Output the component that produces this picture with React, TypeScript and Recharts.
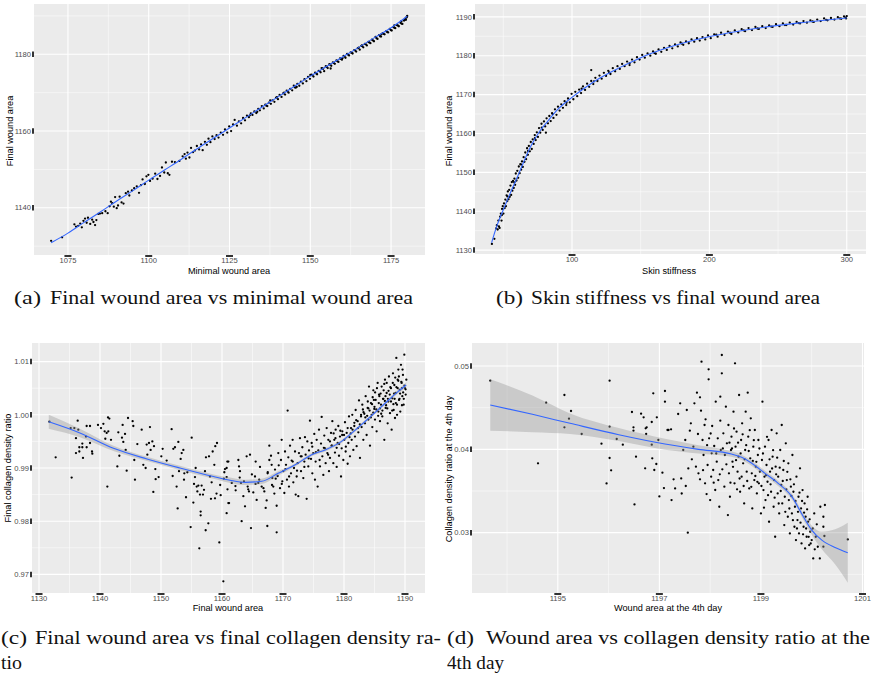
import React from 'react';
import { ComposedChart, Scatter, Line, Area, XAxis, YAxis, CartesianGrid } from 'recharts';

// ---------- Panel (a): minimal wound area vs final wound area ----------
const aPoints: [number, number][] = [
  [1069.8,1131.4],[1073.2,1132.3],[1077.0,1135.7],[1077.5,1135.1],[1078.2,1135.3],[1078.8,1135.9],[1079.3,1134.9],[1079.8,1136.6],[1080.3,1137.2],[1080.8,1136.1],
  [1081.2,1137.4],[1081.9,1135.8],[1082.5,1136.9],[1082.9,1136.3],[1083.4,1135.5],[1083.8,1136.8],[1084.4,1138.4],[1084.9,1138.5],[1085.6,1138.6],[1086.6,1139.1],
  [1087.3,1138.6],[1087.9,1140.4],[1088.3,1141.6],[1088.7,1141.2],[1089.2,1140.3],[1089.6,1142.8],[1090.1,1139.9],[1090.5,1140.6],[1091.0,1142.9],[1091.6,1141.4],
  [1092.2,1141.1],[1092.9,1143.8],[1093.6,1144.2],[1094.0,1143.2],[1094.8,1144.5],
  [1095.5,1145.1],[1096.3,1145.6],[1097.0,1143.9],[1097.6,1145.9],[1098.1,1147.4],[1098.8,1146.2],[1099.3,1148.2],[1099.9,1148.6],[1100.4,1147.0],[1101.2,1147.6],
  [1102.0,1148.9],[1102.7,1147.5],[1103.5,1148.3],[1104.1,1150.5],[1104.8,1149.2],[1105.3,1151.8],[1105.9,1149.0],[1106.4,1148.6],[1107.2,1152.0],[1108.1,1151.9],
  [1109.5,1152.2],[1110.5,1153.4],[1111.1,1154.0],[1111.5,1152.8],[1112.0,1154.4],[1112.6,1153.1],[1113.1,1155.6],[1113.7,1154.5],[1114.3,1154.9],[1114.9,1156.1],
  [1115.6,1155.2],[1116.2,1156.5],[1116.7,1155.0],[1117.4,1157.2],[1118.0,1156.4],[1118.5,1158.0],[1119.1,1157.1],[1119.7,1158.6],[1120.4,1157.9],[1121.0,1158.9],
  [1121.6,1158.3],[1122.3,1159.6],[1123.0,1159.0],[1123.6,1160.4],[1124.3,1159.6],[1124.9,1161.2],[1125.5,1160.0],[1126.1,1161.7],[1126.6,1162.9],[1127.3,1161.4],
  [1127.9,1162.5],[1128.6,1162.0],[1129.2,1163.4],[1129.8,1162.8],
  [1130.4,1164.0],[1131.0,1163.6],[1131.6,1164.6],[1132.1,1164.2],[1132.7,1165.1],[1133.3,1164.7],[1133.9,1165.8],[1134.4,1165.4],[1135.0,1166.5],[1135.6,1165.9],
  [1136.1,1166.9],[1136.7,1166.5],[1137.2,1167.4],[1137.8,1167.1],[1138.3,1168.0],[1138.9,1167.6],[1139.4,1168.7],[1140.0,1168.3],[1140.5,1169.4],[1141.1,1168.9],
  [1141.6,1169.8],[1142.2,1169.5],[1142.7,1170.5],[1143.3,1170.0],[1143.8,1171.0],[1144.4,1170.6],[1144.9,1171.8],[1145.5,1171.3],[1146.0,1172.3],[1146.6,1171.8],
  [1147.1,1172.9],[1147.7,1172.4],[1148.2,1173.5],[1148.8,1173.0],[1149.3,1174.1],[1149.9,1173.6],[1150.4,1174.7],[1151.0,1174.2],[1151.5,1175.2],[1152.1,1174.8],
  [1152.6,1175.7],[1153.2,1175.3],[1153.7,1176.3],[1154.3,1175.6],[1154.8,1176.9],[1155.4,1176.4],[1155.9,1177.4],[1156.5,1177.0],[1157.0,1177.9],[1157.6,1177.5],
  [1158.1,1178.4],[1158.7,1178.0],[1159.2,1178.9],[1159.8,1178.6],[1160.3,1179.6],[1160.9,1179.1],[1161.4,1180.1],[1162.0,1179.7],[1162.5,1180.5],[1163.1,1180.2],
  [1163.6,1181.1],[1164.2,1180.7],[1164.7,1181.6],[1165.3,1181.2],[1165.8,1182.2],[1166.4,1181.8],[1166.9,1182.7],[1167.5,1182.3],[1168.0,1183.2],[1168.6,1182.9],
  [1169.1,1183.8],[1169.7,1183.4],[1170.2,1184.5],[1170.8,1184.0],[1171.3,1185.0],[1171.9,1184.6],[1172.4,1185.5],[1173.0,1185.2],[1173.5,1186.0],[1174.1,1185.7],
  [1174.6,1186.6],[1175.2,1186.2],[1175.7,1187.1],[1176.3,1186.8],[1176.8,1187.6],[1177.4,1187.3],[1177.9,1188.2],[1178.5,1187.9],[1179.0,1188.8],[1179.4,1189.3],
  [1179.8,1189.6],[1180.0,1190.0],[1179.6,1189.0],[1178.2,1188.6],[1176.0,1187.5],[1172.0,1185.2],[1166.0,1182.3],[1160.0,1179.0],[1153.5,1176.4],[1150.0,1174.6],
  [1145.8,1171.5],[1141.9,1170.0],[1137.6,1168.0],[1156.3,1176.3],
  [1150.7,1174.5],[1151.8,1175.0],[1152.9,1175.6],[1154.0,1176.2],[1155.1,1176.7],[1156.2,1177.3],[1157.3,1177.7],[1158.4,1178.2],[1159.5,1178.8],[1160.6,1179.4],
  [1161.7,1179.9],[1162.8,1180.4],[1163.9,1181.0],[1165.0,1181.7],[1166.1,1182.1],[1167.2,1182.6],[1168.3,1183.1],[1169.4,1183.6],[1170.5,1184.2],[1171.6,1184.7],
  [1172.7,1185.3],[1173.8,1185.8],[1174.9,1186.3],[1176.0,1186.9],[1177.1,1187.5],[1178.2,1188.0],[1179.2,1188.9],[1179.9,1189.8],[1145.2,1171.4],[1143.0,1170.3],
  [1139.7,1168.8],[1136.4,1166.6],[1133.6,1165.0],[1131.3,1164.1]
];
const aSmooth: [number, number][] = [
  [1069.8,1130.9],[1075,1133.4],[1080,1136.2],[1085,1138.9],[1090,1141.7],[1095,1144.4],[1100,1147.2],[1105,1149.9],[1110,1152.6],[1115,1155.4],
  [1120,1158.1],[1125,1160.8],[1130,1163.5],[1135,1166.2],[1140,1168.9],[1145,1171.6],[1150,1174.3],[1155,1176.8],[1160,1179.3],[1165,1181.8],
  [1170,1184.4],[1175,1186.9],[1180,1189.9]
];
const aXTicks = [1075, 1100, 1125, 1150, 1175];
const aXMinor = [1087.5, 1112.5, 1137.5, 1162.5];
const aYTicks = [1140, 1160, 1180];
const aYMinor = [1130, 1150, 1170, 1190];

// ---------- Panel (b): skin stiffness vs final wound area ----------
const bPoints: [number, number][] = [
  [41.7,1131.6],[43.5,1132.9],[44.8,1135.6],[45.3,1136.4],[45.9,1135.3],[46.4,1137.6],[46.8,1136.1],[47.3,1135.7],[47.7,1138.6],[48.2,1139.4],
  [48.7,1137.6],[49.1,1140.6],[49.6,1141.3],[50.1,1139.4],[50.5,1142.0],[51.0,1140.8],[51.5,1143.0],[51.9,1141.3],[52.4,1144.1],[52.9,1142.6],
  [53.3,1145.1],[53.8,1143.1],[54.3,1145.5],[54.7,1143.7],[55.2,1146.6],[55.7,1144.2],[56.2,1147.5],[56.6,1145.3],[57.1,1147.8],[57.6,1146.0],
  [58.1,1148.4],[58.6,1146.8],[59.1,1149.7],[59.6,1147.9],[60.2,1150.4],[60.8,1148.6],[61.3,1151.5],[61.9,1149.8],[62.4,1152.1],[63.0,1150.7],
  [63.6,1152.8],[64.2,1151.4],[64.8,1153.9],[65.4,1152.7],[66.0,1155.1],[66.6,1153.4],[67.3,1156.2],[67.9,1154.5],[68.6,1156.8],[69.3,1155.4],
  [70.0,1157.8],[70.7,1156.0],[71.4,1158.5],[72.1,1157.3],[72.9,1159.6],[73.6,1158.3],[74.4,1160.3],[75.2,1159.1],[76.0,1161.4],[76.9,1160.2],
  [77.8,1162.5],[78.7,1160.9],[79.6,1163.1],[80.5,1161.8],[81.0,1160.2],[81.5,1163.9],[82.5,1162.6],[83.5,1164.5],[84.5,1163.2],[85.5,1165.2],
  [86.5,1164.0],[87.6,1166.2],[88.7,1164.8],[89.8,1166.9],[91.0,1165.9],[92.2,1167.5],[93.4,1166.6],[94.6,1168.3],[95.8,1167.3],[97.1,1169.0],
  [98.4,1168.0],[99.7,1170.2],[101.0,1168.8],[102.4,1170.7],[103.8,1169.6],[105.2,1171.3],[106.6,1170.4],[108.0,1172.1],[109.5,1171.2],[111.0,1172.8],
  [112.5,1172.0],[114.0,1176.3],[114.0,1173.5],[115.5,1172.7],[117.0,1174.3],[118.5,1173.5],[120.0,1174.9],[121.6,1174.1],[123.2,1175.6],[124.8,1174.8],
  [126.4,1176.1],[128.0,1175.3],[129.7,1176.8],[131.4,1176.0],[133.1,1177.3],[134.8,1176.6],[136.5,1177.9],[138.3,1177.3],[140.1,1178.5],[141.9,1177.6],
  [143.7,1179.0],[145.5,1178.3],[147.3,1179.6],[149.2,1179.0],[151.1,1180.2],[153.0,1179.5],[155.0,1180.6],[157.0,1180.0],[159.0,1181.1],[161.0,1180.5],
  [163.0,1181.6],[165.0,1181.0],[167.0,1182.0],[169.0,1181.5],[171.0,1182.5],[173.0,1181.9],[175.0,1182.9],[177.0,1182.4],[179.0,1183.4],[181.0,1182.8],
  [183.0,1183.7],[185.0,1183.2],[187.0,1184.2],[189.0,1183.6],[191.0,1184.5],[193.0,1183.9],[195.0,1184.8],[197.0,1184.2],[199.0,1185.2],[201.0,1184.5],
  [203.5,1185.5],[206.0,1184.9],[208.5,1185.9],[211.0,1185.3],[213.5,1186.2],[216.0,1185.6],[218.5,1186.5],[221.0,1186.0],[223.5,1186.8],[226.0,1186.3],
  [228.5,1187.1],[231.0,1186.6],[233.5,1187.4],[236.0,1186.9],[238.5,1187.6],[241.0,1187.1],[243.5,1187.8],[246.0,1187.4],[248.5,1188.1],[251.0,1187.6],
  [253.5,1188.3],[256.0,1187.9],[258.5,1188.5],[261.0,1188.0],[263.5,1188.7],[266.0,1188.3],[268.5,1188.9],[271.0,1188.5],[273.5,1189.1],[276.0,1188.7],
  [278.5,1189.3],[281.0,1188.9],[283.5,1189.6],[286.0,1189.1],[288.5,1189.7],[291.0,1189.3],[293.5,1189.9],[296.0,1189.5],[298.0,1190.1],[299.5,1189.6],
  [300.0,1190.2],[299.0,1189.8],
  [205,1185.4],[215,1185.9],[225,1186.5],[235,1187.0],[245,1187.5],[255,1187.9],[265,1188.4],[275,1188.8],[285,1189.2],[295,1189.6],
  [180,1183.1],[160,1180.7],[142,1178.1],[127,1175.7],[116,1173.4],[107,1171.5],[96,1167.9],[86,1165.0],[78,1161.5],[73,1158.8],
  [68,1155.5],[63,1152.0],[58,1147.4],[53,1143.8],[49,1139.0]
];
const bSmooth: [number, number][] = [
  [41.5,1131.9],[45,1135.9],[50,1140.4],[55,1144.6],[60,1148.6],[65,1152.8],[70,1156.7],[76,1160.3],[82,1163.0],[90,1166.3],
  [100,1169.3],[110,1171.9],[120,1174.2],[135,1177.0],[150,1179.5],[170,1182.1],[190,1184.1],[210,1185.6],[230,1186.8],[250,1187.8],
  [270,1188.6],[300,1189.7]
];
const bXTicks = [100, 200, 300];
const bXMinor = [50, 150, 250];
const bYTicks = [1130, 1140, 1150, 1160, 1170, 1180, 1190];
const bYMinor = [1135, 1145, 1155, 1165, 1175, 1185];

// ---------- Panel (c): final wound area vs final collagen density ratio ----------
const cPoints: [number, number][] = [
  [1131.7,0.9987],[1132.73,0.9920],[1135.35,0.9882],[1135.19,0.9975],[1135.79,0.9975],[1136.34,0.9989],[1136.44,0.9972],[1136.06,0.9956],[1136.06,0.9928],[1136.61,0.9931],
  [1136.61,0.9939],[1137.10,0.9946],[1137.10,0.9939],[1137.21,0.9919],[1137.81,0.9979],[1138.36,0.9979],[1137.70,0.9959],[1137.81,0.9939],[1138.36,0.9947],[1138.69,0.9931],
  [1138.74,0.9927],[1139.67,0.9981],[1140.16,0.9975],[1140.55,0.9983],[1140.76,0.9969],[1140.87,0.9955],[1141.09,0.9966],[1141.31,0.9995],[1141.53,0.9993],[1141.36,0.9969],
  [1141.20,0.9865],[1141.80,0.9953],[1142.84,0.9903],[1143.00,0.9967],[1143.60,0.9957],[1143.82,0.9949],[1144.10,0.9964],[1143.71,0.9981],[1143.17,0.9923],[1144.37,0.9895],
  [1144.59,0.9994],[1144.21,0.9934],[1145.35,0.9988],[1145.46,0.9979],[1145.62,0.9915],[1145.73,0.9878],[1146.12,0.9945],[1146.83,0.9972],[1147.10,0.9906],[1147.48,0.9900],
  [1147.65,0.9944],[1147.76,0.9925],[1148.03,0.9947],[1148.19,0.9977],[1148.30,0.9934],[1148.58,0.9950],[1148.74,0.9855],[1148.85,0.9941],[1149.07,0.9898],[1149.12,0.9879],
  [1149.61,0.9883],[1150.05,0.9922],[1150.27,0.9936],[1150.93,0.9914],[1151.74,0.9973],[1151.91,0.9885],[1152.02,0.9936],[1152.29,0.9939],[1152.56,0.9865],[1152.73,0.9824],
  [1152.84,0.9949],[1152.95,0.9894],[1153.22,0.9917],[1153.39,0.9928],[1153.66,0.9934],[1153.77,0.9878],[1153.82,0.9890],[1154.10,0.9845],[1154.32,0.9892],[1155.03,0.9957],
  [1154.86,0.9789],[1155.30,0.9835],[1155.41,0.9870],[1155.57,0.9883],[1155.68,0.9900],[1155.85,0.9865],[1155.96,0.9856],[1156.12,0.9867],[1156.39,0.9850],[1156.50,0.9818],
  [1156.50,0.9811],[1156.28,0.9749],[1156.66,0.9867],[1156.88,0.9850],[1157.05,0.9859],[1157.21,0.9894],[1157.32,0.9783],[1157.37,0.9920],[1157.76,0.9796],[1157.87,0.9922],
  [1158.03,0.9884],[1158.19,0.9842],[1158.30,0.9873],[1158.47,0.9931],[1158.74,0.9906],[1158.85,0.9843],[1158.90,0.9941],[1159.18,0.9947],[1159.56,0.9760],[1159.78,0.9849],
  [1160.22,0.9687],[1160.38,0.9892],[1160.49,0.9898],[1160.76,0.9883],[1160.87,0.9912],[1161.04,0.9834],
  [1161.04,0.9912],[1160.76,0.9900],[1161.15,0.9834],[1160.76,0.9815],[1162.68,0.9915],[1162.79,0.9903],[1162.95,0.9894],[1163.11,0.9872],[1162.24,0.9858],[1163.22,0.9800],
  [1163.50,0.9847],[1163.77,0.9828],[1164.04,0.9922],[1164.21,0.9865],[1164.42,0.9856],[1164.59,0.9925],[1164.75,0.9787],[1165.13,0.9854],[1165.41,0.9884],[1165.52,0.9912],
  [1165.68,0.9840],[1165.95,0.9872],[1166.23,0.9902],[1166.50,0.9865],[1166.94,0.9856],[1167.16,0.9825],[1167.32,0.9839],[1167.43,0.9791],[1167.48,0.9890],[1167.76,0.9915],
  [1167.76,0.9942],[1168.03,0.9923],[1168.14,0.9906],[1168.25,0.9881],[1168.41,0.9865],[1168.58,0.9852],[1168.69,0.9897],[1168.96,0.9829],[1168.96,0.9779],[1169.12,0.9885],
  [1169.23,0.9928],[1169.51,0.9862],[1169.67,0.9915],[1169.78,0.9953],[1169.89,0.9875],[1170.05,0.9894],[1170.22,0.9853],[1170.33,0.9931],[1170.49,0.9906],[1170.65,0.9878],
  [1170.76,1.0008],[1170.87,0.9920],[1170.98,0.9865],[1171.15,0.9942],[1171.31,0.9890],[1171.42,0.9914],[1171.58,0.9953],[1171.69,0.9873],[1171.80,0.9900],[1171.97,0.9931],
  [1172.08,0.9850],[1172.24,0.9884],[1172.40,0.9909],[1172.51,0.9847],[1172.62,0.9928],[1172.78,0.9956],[1172.95,0.9894],[1173.06,0.9922],[1173.17,0.9939],[1173.33,0.9881],
  [1173.50,0.9912],[1173.60,0.9958],[1173.71,0.9925],[1173.88,0.9842],[1173.99,0.9950],[1174.15,0.9903],[1174.26,0.9933],[1174.42,0.9989],[1174.59,0.9917],[1174.70,0.9947],
  [1174.81,0.9890],[1174.97,0.9928],[1175.13,0.9964],[1175.24,0.9878],[1175.35,0.9912],[1175.52,0.9953],[1175.68,0.9865],[1175.79,0.9933],[1175.90,0.9972],[1176.06,0.9903],
  [1176.23,0.9946],[1176.34,0.9996],[1176.45,0.9922],[1176.61,0.9887],[1176.77,0.9961],[1176.88,0.9937],[1176.99,0.9909],[1177.16,0.9975],[1177.27,0.9928],[1177.43,0.9953],
  [1177.54,0.9894],[1177.70,0.9919],[1177.87,0.9966],[1177.98,0.9942],[1178.09,0.9988],[1178.25,0.9909],[1178.41,0.9953],[1178.52,0.9929],[1178.63,0.9972],[1178.80,0.9902],
  [1178.96,0.9947],[1179.07,0.9979],[1179.18,0.9923],[1179.34,0.9959],[1179.51,0.9884],[1179.62,0.9937],[1179.73,0.9969],[1179.89,0.9915],[1180.05,0.9953],[1180.16,0.9986],
  [1180.27,0.9931],[1180.44,0.9966],[1180.60,0.9908],[1180.71,0.9947],[1180.82,0.9997],[1180.98,0.9922],[1181.15,0.9975],[1181.26,0.9953],[1181.36,1.0000],[1181.53,0.9934],
  [1181.69,0.9979],[1181.80,0.9959],[1181.91,1.0009],[1182.07,0.9941],[1182.24,0.9988],[1182.35,0.9967],[1182.46,1.0027],[1182.62,0.9919],[1182.79,0.9997],[1182.89,0.9977],
  [1183.00,1.0019],[1183.17,0.9953],[1183.33,1.0002],[1183.44,0.9984],[1183.55,1.0035],[1183.71,0.9962],[1183.88,1.0013],[1183.99,0.9991],[1184.10,1.0053],[1184.26,0.9942],
  [1184.42,1.0022],[1184.53,1.0000],[1184.64,0.9977],[1184.81,1.0046],[1184.97,1.0011],[1185.08,0.9991],[1185.19,1.0028],[1185.35,0.9969],[1185.52,1.0060],[1185.63,1.0006],
  [1185.74,1.0038],[1185.90,0.9988],[1186.07,1.0019],[1186.17,1.0053],[1186.28,0.9997],[1186.45,1.0030],[1186.61,0.9953],[1186.72,1.0066],[1186.83,1.0013],[1186.99,1.0041],
  [1187.16,0.9984],[1187.26,1.0025],[1187.37,1.0072],[1187.54,1.0003],[1187.70,1.0050],[1187.81,0.9972],[1187.92,1.0031],[1188.03,1.0078],[1188.14,1.0009],[1188.25,1.0056],
  [1188.36,0.9994],[1188.47,1.0041],[1188.58,1.0107],[1188.69,1.0019],[1188.80,1.0066],[1188.91,1.0085],[1189.02,1.0028],[1189.13,1.0047],[1189.23,1.0006],[1189.34,1.0094],
  [1189.45,1.0060],[1189.56,1.0035],[1189.67,1.0075],[1189.78,1.0019],[1189.89,1.0113],[1190.00,1.0050],[1190.11,1.0038],[1190.22,1.0066],
  [1184.0,1.0012],[1184.4,0.9995],[1184.9,1.0028],[1185.3,1.0010],[1185.8,1.0035],[1186.1,1.0002],[1186.5,1.0046],[1186.9,1.0018],[1187.2,1.0030],[1187.6,1.0052],
  [1187.9,1.0008],[1188.2,1.0040],[1188.5,1.0022],[1188.8,1.0050],[1189.1,1.0030],[1189.4,1.0062],[1189.7,1.0042],[1189.9,1.0055],[1189.5,1.0018],[1188.9,1.0064],
  [1188.4,1.0070],[1187.5,1.0038],[1186.7,1.0026],[1185.9,1.0012],[1185.1,1.0042],[1184.6,1.0020],[1183.8,0.9998],[1183.2,1.0005],[1182.6,0.9982],[1182.0,0.9990],
  [1181.4,0.9972],[1180.9,0.9958],[1180.3,0.9940],[1179.7,0.9962],[1179.2,0.9945],[1178.6,0.9956],[1178.0,0.9942],[1177.4,0.9925],[1176.7,0.9938],[1176.0,0.9915],
  [1175.4,0.9930],[1174.8,0.9940],[1174.2,0.9918],[1173.5,0.9902],[1172.9,0.9922],[1172.3,0.9895],[1171.6,0.9912],[1171.0,0.9884],[1170.4,0.9898],[1169.8,0.9870],
  [1169.3,0.9905],[1168.8,0.9880],[1168.2,0.9868],[1167.5,0.9892],[1166.8,0.9862],[1166.1,0.9878],[1165.5,0.9870],[1164.9,0.9888],[1164.3,0.9860],[1163.6,0.9875],
  [1162.9,0.9882],[1162.2,0.9866],[1161.6,0.9872],[1160.9,0.9860],[1160.3,0.9880],[1159.7,0.9868],[1159.1,0.9852],
  [1183.1,1.0010],[1183.5,0.9995],[1183.9,1.0025],[1184.2,1.0008],[1184.7,1.0033],[1185.0,1.0015],[1185.4,1.0050],[1185.7,1.0022],[1186.0,1.0040],[1186.3,1.0008],
  [1186.6,1.0058],[1186.8,1.0035],[1187.1,1.0012],[1187.3,1.0045],[1187.7,1.0025],[1188.0,1.0060],[1188.3,1.0030],[1188.6,1.0052],[1188.7,1.0000],[1189.0,1.0072],
  [1189.2,1.0040],[1189.5,1.0050],[1189.8,1.0030],[1190.1,1.0048],[1189.6,1.0085],[1188.1,1.0020],[1187.0,1.0060],[1186.4,1.0030],[1185.6,0.9998],[1184.8,1.0004],
  [1182.8,1.0000],[1182.3,0.9975],[1181.7,0.9985],[1181.1,0.9965],[1180.6,0.9975],[1180.0,0.9962],[1179.4,0.9970],[1178.8,0.9938],[1178.3,0.9965],[1177.7,0.9950]
];
const cSmooth: [number, number][] = [
  [1131.6,0.9987],[1136.7,0.9966],[1142.2,0.9937],[1147.7,0.9917],[1153.1,0.9900],[1158.6,0.9884],[1161.3,0.9877],[1163.8,0.9873],[1166.5,0.9875],[1169.2,0.9890],
  [1172.0,0.9906],[1174.7,0.9925],[1176.9,0.9934],[1179.6,0.9950],[1181.3,0.9966],[1183.4,0.9987],[1186.2,1.0016],[1188.9,1.0044],[1190.2,1.0056]
];
const cBand: [number, number, number][] = [
  [1131.6,0.9974,1.0000],[1136.7,0.9958,0.9974],[1142.2,0.9932,0.9942],[1147.7,0.9913,0.9921],[1153.1,0.9896,0.9904],[1158.6,0.9880,0.9888],[1161.3,0.9872,0.9882],
  [1163.8,0.9868,0.9878],[1166.5,0.9870,0.9880],[1169.2,0.9886,0.9894],[1172.0,0.9903,0.9909],[1174.7,0.9922,0.9928],[1176.9,0.9931,0.9937],[1179.6,0.9947,0.9953],
  [1181.3,0.9963,0.9969],[1183.4,0.9984,0.9990],[1186.2,1.0013,1.0019],[1188.9,1.0040,1.0048],[1190.2,1.0051,1.0061]
];
const cXTicks = [1130, 1140, 1150, 1160, 1170, 1180, 1190];
const cXMinor = [1135, 1145, 1155, 1165, 1175, 1185];
const cYTicks = [0.97, 0.98, 0.99, 1.0, 1.01];
const cYMinor = [0.975, 0.985, 0.995, 1.005];

// ---------- Panel (d): wound area vs collagen density ratio at the 4th day ----------
const dPoints: [number, number][] = [
  [1193.67,0.04824],[1194.61,0.03832],[1194.77,0.04560],[1195.13,0.04652],[1195.13,0.04264],[1195.22,0.04368],[1195.26,0.04460],[1195.47,0.04184],[1195.86,0.04068],[1195.96,0.03591],
  [1196.02,0.04824],[1196.02,0.04272],[1196.02,0.03896],[1196.05,0.03748],[1196.16,0.04124],[1196.28,0.04056],[1196.46,0.04448],[1196.49,0.04264],[1196.49,0.04224],[1196.51,0.03339],
  [1196.54,0.03912],[1196.64,0.04428],[1196.69,0.04384],[1196.72,0.03772],[1196.73,0.04252],[1196.75,0.04264],[1196.74,0.04184],[1196.85,0.04328],[1196.85,0.04056],[1196.86,0.03892],
  [1196.88,0.04672],[1196.90,0.03752],[1196.94,0.03824],[1196.95,0.04384],[1196.98,0.04112],[1197.00,0.03435],[1197.06,0.03720],[1197.09,0.03535],[1197.11,0.04700],[1197.11,0.04572],
  [1197.18,0.04232],[1197.16,0.04232],[1197.24,0.03391],[1197.23,0.04240],[1197.31,0.03531],[1197.37,0.04424],[1197.41,0.04552],[1197.43,0.03651],[1197.47,0.03992],[1197.51,0.04112],
  [1197.54,0.04472],[1197.56,0.03000],[1197.57,0.03771],[1197.60,0.04224],[1197.62,0.04312],[1197.64,0.03880],[1197.67,0.04032],[1197.69,0.04552],[1197.72,0.03792],[1197.74,0.04680],
  [1197.76,0.04184],[1197.77,0.03712],[1197.80,0.04624],[1197.80,0.03640],[1197.82,0.04464],[1197.83,0.05052],[1197.85,0.04112],[1197.87,0.03932],[1197.89,0.04292],[1197.90,0.03592],
  [1197.91,0.04360],[1197.93,0.03463],[1197.95,0.03812],[1197.97,0.04960],[1197.97,0.04840],[1197.98,0.04132],[1198.00,0.03391],[1198.02,0.03672],[1198.03,0.03952],[1198.04,0.04280],
  [1198.06,0.03752],[1198.08,0.04040],[1198.10,0.03512],[1198.11,0.04572],[1198.13,0.03852],[1198.15,0.04132],[1198.16,0.03631],[1198.18,0.03311],[1198.20,0.04344],[1198.20,0.04632],
  [1198.21,0.03992],[1198.23,0.05132],[1198.23,0.04912],[1198.24,0.03760],[1198.26,0.04192],[1198.28,0.03552],[1198.29,0.03932],[1198.31,0.04512],[1198.33,0.04072],[1198.35,0.03211],
  [1198.36,0.04292],[1198.37,0.03712],[1198.39,0.03431],[1198.41,0.03992],[1198.42,0.04152],[1198.44,0.03852],[1198.46,0.04452],[1198.48,0.03592],[1198.49,0.05032],[1198.50,0.04032],
  [1198.52,0.04212],[1198.54,0.03732],[1198.56,0.03912],[1198.57,0.04652],[1198.59,0.03491],[1198.61,0.04112],[1198.62,0.03672],[1198.63,0.04312],[1198.65,0.03832],[1198.67,0.03351],
  [1198.69,0.03992],[1198.70,0.04452],[1198.72,0.03732],[1198.74,0.04680],[1198.75,0.04152],[1198.77,0.03531],[1198.79,0.03892],[1198.80,0.04372],[1198.82,0.03712],[1198.83,0.03291],
  [1198.85,0.04032],[1198.87,0.03631],[1198.88,0.04232],[1198.90,0.03792],[1198.92,0.03471],[1198.94,0.03932],[1198.95,0.04112],[1198.96,0.03592],[1198.98,0.03732],[1199.00,0.03231],
  [1199.02,0.03872],[1199.03,0.04572],[1199.05,0.03511],[1199.07,0.03672],[1199.08,0.04032],[1199.09,0.03391],[1199.11,0.03812],[1199.13,0.03611],[1199.15,0.04112],[1199.16,0.03131],
  [1199.18,0.03732],[1199.20,0.03491],[1199.21,0.04232],[1199.23,0.03912],[1199.25,0.03311],[1199.26,0.03631],[1199.28,0.02951],[1199.29,0.03792],[1199.31,0.04192],[1199.33,0.03471],
  [1199.34,0.03672],[1199.36,0.03231],[1199.38,0.03992],[1199.40,0.03572],[1199.41,0.04292],[1199.42,0.03351],[1199.44,0.03752],[1199.46,0.03091],[1199.47,0.03431],[1199.49,0.04072],
  [1199.51,0.03631],[1199.53,0.03191],[1199.54,0.03832],[1199.55,0.03391],[1199.57,0.02991],[1199.59,0.03552],[1199.61,0.03231],[1199.62,0.03932],[1199.64,0.03491],[1199.66,0.03071],
  [1199.67,0.03311],[1199.69,0.02911],[1199.70,0.03672],[1199.72,0.03151],[1199.74,0.03431],[1199.75,0.02991],[1199.77,0.03772],[1199.79,0.03291],[1199.80,0.02871],[1199.82,0.03511],
  [1199.84,0.03071],[1199.86,0.03351],[1199.87,0.02811],[1199.88,0.03191],[1199.90,0.02951],[1199.92,0.03431],[1199.93,0.03131],[1199.95,0.02851],[1199.97,0.03011],[1200.00,0.02911],
  [1200.03,0.02691],[1200.05,0.03231],[1200.08,0.02951],[1200.12,0.02831],[1200.16,0.02691],[1200.17,0.03311],[1200.23,0.03071],[1200.23,0.03191],[1200.25,0.02960],[1200.26,0.03332],
  [1200.23,0.02832],[1200.71,0.02919],[1197.28,0.03640],[1197.44,0.03470],[1197.52,0.03560],
  [1198.91,0.03850],[1198.93,0.03610],[1198.97,0.04010],[1199.01,0.03560],[1199.04,0.03950],[1199.06,0.03300],[1199.10,0.03690],[1199.12,0.04150],[1199.14,0.03450],[1199.17,0.03880],
  [1199.19,0.03580],[1199.22,0.03770],[1199.24,0.03990],[1199.27,0.03420],[1199.30,0.03700],[1199.32,0.03900],[1199.35,0.03350],[1199.37,0.03780],[1199.39,0.03500],[1199.43,0.03620],
  [1199.45,0.03860],[1199.48,0.03250],[1199.50,0.03520],[1199.52,0.03730],[1199.56,0.03290],[1199.58,0.03640],[1199.60,0.03440],[1199.63,0.03150],[1199.65,0.03580],[1199.68,0.03380],
  [1199.71,0.03050],[1199.73,0.03250],[1199.76,0.03480],[1199.78,0.03120],[1199.81,0.03380],[1199.83,0.02980],[1199.85,0.03240],[1199.89,0.03050],[1199.91,0.03280],[1199.94,0.02950],
  [1199.96,0.03160],[1199.98,0.02870],[1200.02,0.03050],[1200.06,0.02800],[1200.10,0.03100],
  [1198.40,0.03600],[1198.43,0.04010],[1198.45,0.03790],[1198.47,0.04250],[1198.51,0.03870],[1198.53,0.03520],[1198.55,0.04080],[1198.58,0.03650],[1198.60,0.03950],[1198.64,0.04180],
  [1198.66,0.03560],[1198.68,0.03880],[1198.71,0.04050],[1198.73,0.03620],[1198.76,0.03980],[1198.78,0.04230],[1198.81,0.03550],[1198.84,0.03860],[1198.86,0.04110],[1198.89,0.03680],
  [1197.86,0.03750],[1197.94,0.04050],[1198.01,0.04190],[1198.07,0.03600],[1198.12,0.03950],[1198.19,0.03700],[1198.25,0.04010],[1198.32,0.03820],[1198.38,0.04080]
];
const dSmooth: [number, number][] = [
  [1193.67,0.04532],[1194.5,0.04420],[1195.24,0.04312],[1196.2,0.04175],[1197.11,0.04064],[1197.77,0.04000],[1198.42,0.03944],[1198.62,0.03904],[1198.82,0.03832],
  [1199.08,0.03712],[1199.34,0.03592],[1199.61,0.03432],[1199.80,0.03231],[1200.00,0.03031],[1200.20,0.02911],[1200.46,0.02823],[1200.71,0.02759]
];
const dBand: [number, number, number][] = [
  [1193.67,0.04224,0.04840],[1194.5,0.04205,0.04645],[1195.24,0.04184,0.04430],[1196.2,0.04100,0.04255],[1197.11,0.03995,0.04128],[1197.77,0.03950,0.04050],
  [1198.42,0.03910,0.03978],[1198.62,0.03872,0.03936],[1198.82,0.03800,0.03864],[1199.08,0.03680,0.03744],[1199.34,0.03560,0.03624],[1199.61,0.03398,0.03466],
  [1199.80,0.03195,0.03267],[1200.00,0.02975,0.03087],[1200.20,0.02800,0.03010],[1200.46,0.02620,0.03040],[1200.71,0.02400,0.03119]
];
const dXTicks = [1195, 1197, 1199, 1201];
const dXMinor = [1194, 1196, 1198, 1200];
const dYTicks = [0.03, 0.04, 0.05];
const dYMinor = [0.025, 0.035, 0.045];

// ---------- helpers ----------
const toXY = (arr: [number, number][]) => arr.map(([x, y]) => ({ x, y }));
const toBand = (arr: [number, number, number][]) => arr.map(([x, lo, hi]) => ({ x, band: [lo, hi] }));

const SANS = '"Liberation Sans", Arial, Helvetica, sans-serif';
const SERIF = '"Liberation Serif", "Times New Roman", serif';

const Dot = (props: any) =>
  props.cx == null || props.cy == null ? <g /> : <circle cx={props.cx} cy={props.cy} r={1.15} fill="#000000" />;

type PanelProps = {
  left: number; top: number; width: number; height: number;
  margin: { top: number; right: number; bottom: number; left: number };
  yWidth: number; xHeight: number;
  xDomain: [number, number]; yDomain: [number, number];
  xTicks: number[]; yTicks: number[]; xMinor: number[]; yMinor: number[];
  points: [number, number][]; smooth: [number, number][]; band?: [number, number, number][];
  yFmt?: (v: number) => string;
};

function Panel(p: PanelProps) {
  const tickStyle = { fill: '#4D4D4D', fontSize: 7.6, fontFamily: SANS };
  return (
    <div style={{ position: 'absolute', left: p.left, top: p.top }}>
      <ComposedChart width={p.width} height={p.height} margin={p.margin}>
        <CartesianGrid fill="#EBEBEB" fillOpacity={1} stroke="#FFFFFF" strokeWidth={0.5}
          horizontalValues={p.yMinor} verticalValues={p.xMinor} />
        <CartesianGrid stroke="#FFFFFF" strokeWidth={1.1} fill="none"
          horizontalValues={p.yTicks} verticalValues={p.xTicks} />
        <XAxis type="number" dataKey="x" domain={p.xDomain} allowDataOverflow ticks={p.xTicks} interval={0}
          height={p.xHeight} axisLine={false} tickSize={2} tickMargin={1}
          tickLine={{ stroke: '#333333', strokeWidth: 7 }} tick={tickStyle} />
        <YAxis type="number" dataKey="y" domain={p.yDomain} allowDataOverflow ticks={p.yTicks} interval={0}
          width={p.yWidth} axisLine={false} tickSize={2} tickMargin={1}
          tickLine={{ stroke: '#333333', strokeWidth: 5.5 }} tick={tickStyle} tickFormatter={p.yFmt} />
        <Scatter data={toXY(p.points)} dataKey="y" shape={Dot} isAnimationActive={false} zIndex={50} />
        {p.band ? (
          <Area data={toBand(p.band)} dataKey="band" type="monotone" stroke="none" fill="#999999"
            fillOpacity={0.4} dot={false} activeDot={false} isAnimationActive={false} />
        ) : null}
        <Line data={toXY(p.smooth)} dataKey="y" type="monotone" stroke="#3366FF" strokeWidth={1.1}
          dot={false} activeDot={false} isAnimationActive={false} />
      </ComposedChart>
    </div>
  );
}

const fmt2 = (v: number) => v.toFixed(2);

export default function App() {
  return (
    <div style={{ position: 'absolute', left: 0, top: 0, width: 872, height: 680, background: '#FFFFFF', overflow: 'hidden' }}>
      <Panel left={0} top={0} width={436} height={280} margin={{ top: 4, right: 11, bottom: 0, left: 0 }}
        yWidth={34} xHeight={25} xDomain={[1064.5, 1185.5]} yDomain={[1127.7, 1193.1]}
        xTicks={aXTicks} yTicks={aYTicks} xMinor={aXMinor} yMinor={aYMinor} points={aPoints} smooth={aSmooth} />
      <Panel left={436} top={0} width={436} height={280} margin={{ top: 4, right: 6, bottom: 0, left: 0 }}
        yWidth={39} xHeight={26} xDomain={[29.4, 314]} yDomain={[1129, 1193.3]}
        xTicks={bXTicks} yTicks={bYTicks} xMinor={bXMinor} yMinor={bYMinor} points={bPoints} smooth={bSmooth} />
      <Panel left={0} top={330} width={436} height={288} margin={{ top: 13, right: 11, bottom: 0, left: 0 }}
        yWidth={32} xHeight={25} xDomain={[1128.85, 1193.28]} yDomain={[0.9665, 1.0135]}
        xTicks={cXTicks} yTicks={cYTicks} xMinor={cXMinor} yMinor={cYMinor} points={cPoints} smooth={cSmooth} band={cBand} yFmt={fmt2} />
      <Panel left={436} top={330} width={436} height={288} margin={{ top: 13, right: 8, bottom: 0, left: 0 }}
        yWidth={36} xHeight={25} xDomain={[1193.31, 1201.03]} yDomain={[0.02276, 0.05276]}
        xTicks={dXTicks} yTicks={dYTicks} xMinor={dXMinor} yMinor={dYMinor} points={dPoints} smooth={dSmooth} band={dBand} yFmt={fmt2} />

      <svg width={872} height={680} style={{ position: 'absolute', left: 0, top: 0, pointerEvents: 'none' }}>
        <g fontFamily={SANS} fontSize={9.2} fill="#000000" textAnchor="middle">
          <text x={229} y={274}>Minimal wound area</text>
          <text transform="translate(13,131) rotate(-90)">Final wound area</text>
          <text x={669} y={274}>Skin stiffness</text>
          <text transform="translate(452,131) rotate(-90)">Final wound area</text>
          <text x={228} y={611}>Final wound area</text>
          <text transform="translate(11,468) rotate(-90)">Final collagen density ratio</text>
          <text x={668} y={611}>Wound area at the 4th day</text>
          <text transform="translate(452,469) rotate(-90)">Collagen density ratio at the 4th day</text>
        </g>
        <g fontFamily={SERIF} fontSize={19} fill="#111111">
          <text x={14} y={304} textLength={27} lengthAdjust="spacingAndGlyphs">(a)</text>
          <text x={50} y={304} textLength={363} lengthAdjust="spacingAndGlyphs">Final wound area vs minimal wound area</text>
          <text x={496} y={304} textLength={27} lengthAdjust="spacingAndGlyphs">(b)</text>
          <text x={531} y={304} textLength={289} lengthAdjust="spacingAndGlyphs">Skin stiffness vs final wound area</text>
          <text x={1} y={644} textLength={26} lengthAdjust="spacingAndGlyphs">(c)</text>
          <text x={35} y={644} textLength={406} lengthAdjust="spacingAndGlyphs">Final wound area vs final collagen density ra-</text>
          <text x={1} y={669} textLength={21} lengthAdjust="spacingAndGlyphs">tio</text>
          <text x={447} y={644} textLength={27} lengthAdjust="spacingAndGlyphs">(d)</text>
          <text x={486} y={644} textLength={384} lengthAdjust="spacingAndGlyphs">Wound area vs collagen density ratio at the</text>
          <text x={447} y={669} textLength={57} lengthAdjust="spacingAndGlyphs">4th day</text>
        </g>
      </svg>
    </div>
  );
}
